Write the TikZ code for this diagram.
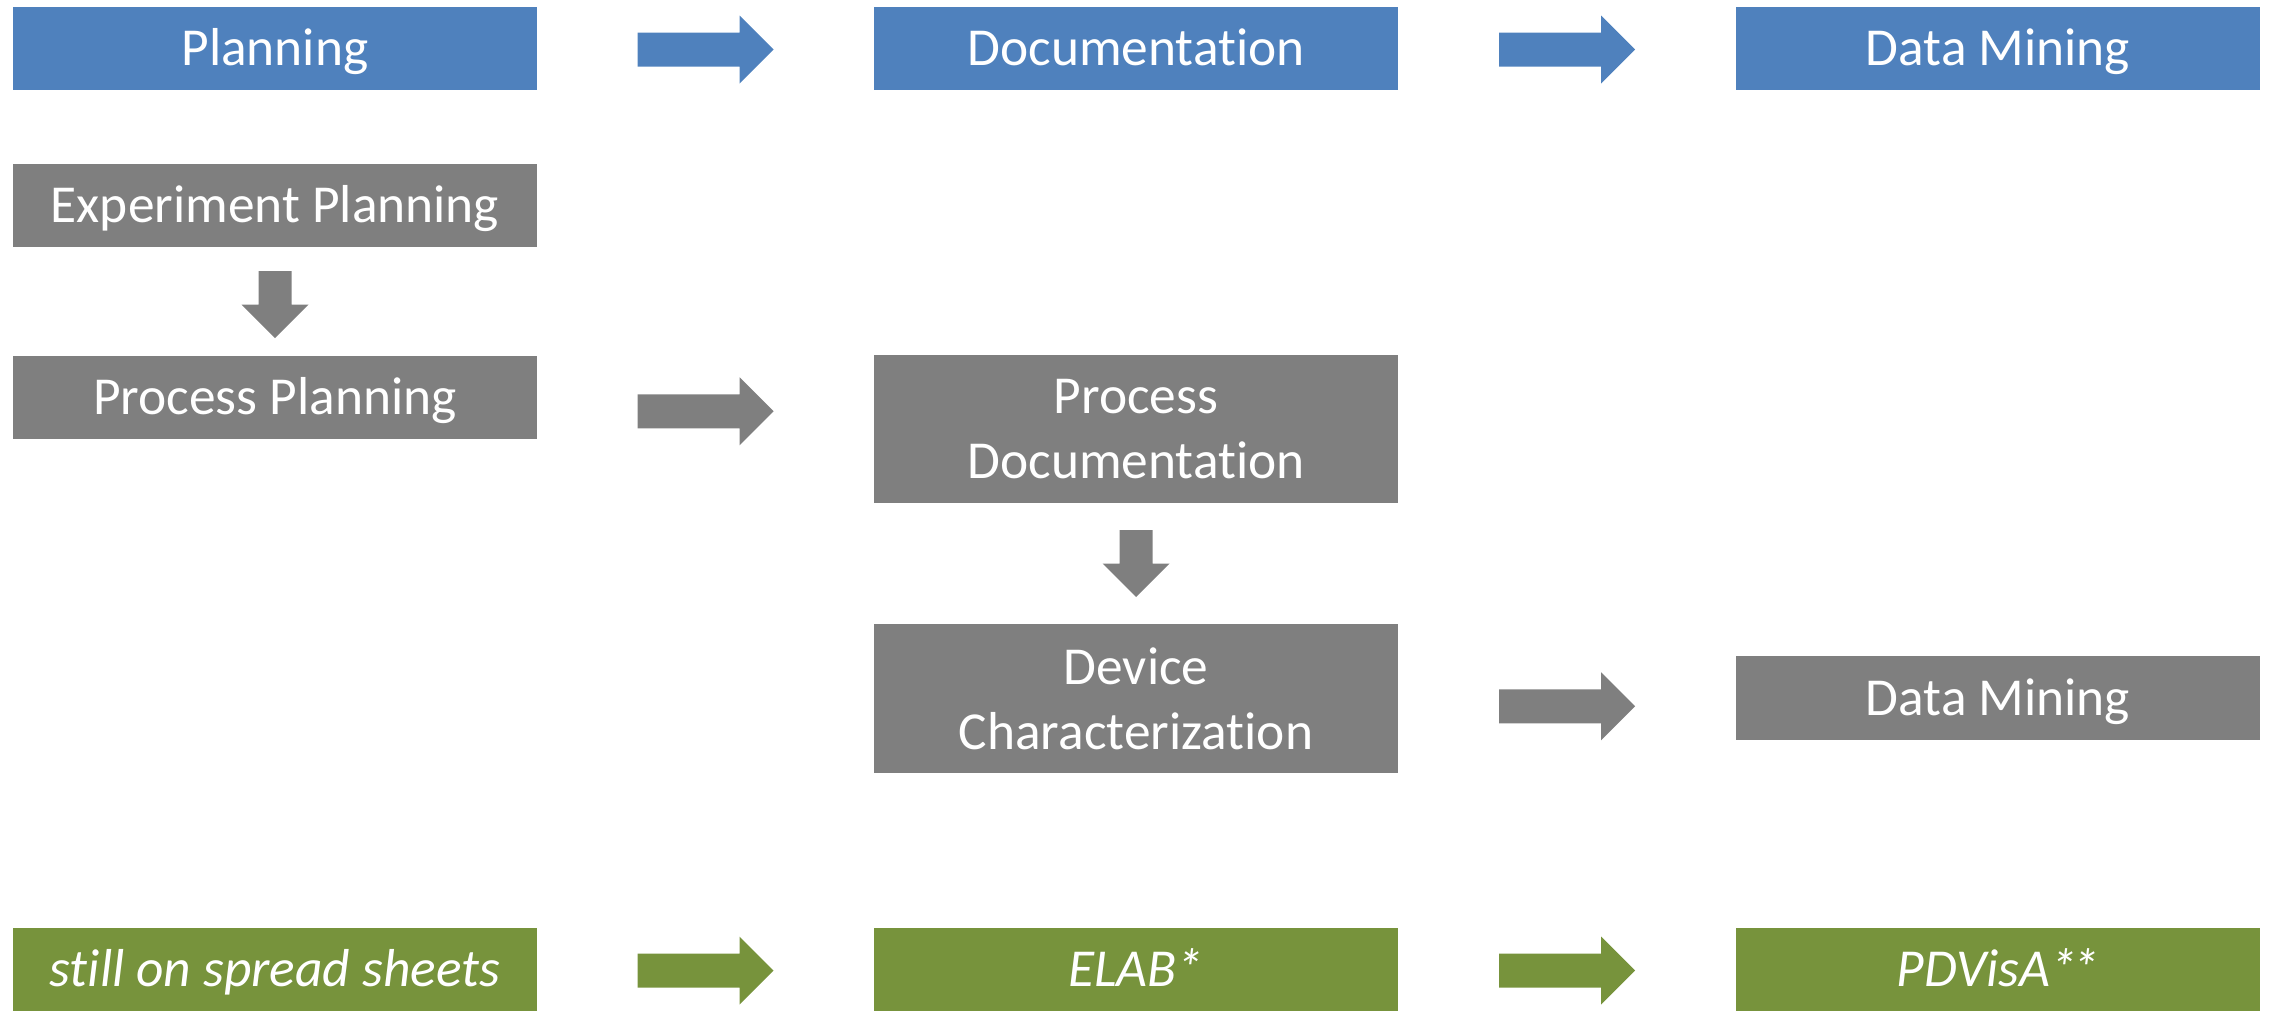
\documentclass[tikz,border=0pt]{standalone}
\usepackage{fontspec}
\setmainfont{Carlito}[RawFeature={-liga}]
\usetikzlibrary{calc}
\definecolor{blueA}{HTML}{4F81BD}
\definecolor{grayA}{HTML}{7F7F7F}
\definecolor{greenA}{HTML}{77933C}
\tikzset{
  box/.style={rectangle, minimum width=524pt, minimum height=83pt, inner sep=0pt,
    text=white, font=\fontsize{53.4}{65}\selectfont, align=center},
  oneline/.style={text height=43pt, text depth=9pt},
  harr/.pic={\path[pic actions] (-68,-17) -- (34,-17) -- (34,-34) -- (68,0) -- (34,34) -- (34,17) -- (-68,17) -- cycle;},
  darr/.pic={\path[pic actions] (-16.5,-33.5) -- (16.5,-33.5) -- (16.5,0) -- (33.5,0) -- (0,33.5) -- (-33.5,0) -- (-16.5,0) -- cycle;}
}
\begin{document}
\begin{tikzpicture}[x=1pt,y=-1pt]
\useasboundingbox (0,0) rectangle (2270,1010);
% row 1 (blue)
\node[box,oneline,fill=blueA] (plan) at (275,48.5) {Planning};
\node[box,oneline,fill=blueA] (doc) at (1136,48.5) {Documentation};
\node[box,oneline,fill=blueA] (dm) at (1998,48.5) {Data Mining};
% gray
\node[box,oneline,fill=grayA] (exp) at (275,205.5) {Experiment Planning};
\node[box,oneline,fill=grayA] (pp) at (275,397.5) {Process Planning};
\node[box,fill=grayA,minimum height=148pt] (pdoc) at (1136,429) {Process\\Documentation};
\node[box,fill=grayA,minimum height=149pt] (dev) at (1136,698.5) {Device\\Characterization};
\node[box,oneline,fill=grayA,minimum height=84pt] (dm2) at (1998,698) {Data Mining};
% green
\node[box,oneline,fill=greenA,font=\fontsize{53.4}{65}\selectfont\itshape] (s1) at (275,969.5) {still on spread sheets};
\node[box,oneline,fill=greenA,font=\fontsize{53.4}{65}\selectfont\itshape] (elab) at (1136,969.5) {ELAB*};
\node[box,oneline,fill=greenA,font=\fontsize{53.4}{65}\selectfont\itshape] (pdv) at (1998,969.5) {PDVisA*\kern-0.08em*};
% arrows
\pic[fill=blueA] at ($(plan.east)!0.5!(doc.west)+(0,1)$) {harr};
\pic[fill=blueA] at ($(doc.east)!0.5!(dm.west)+(0,1)$) {harr};
\pic[fill=grayA] at ($(exp.south)!0.5!(pp.north)+(0,3)$) {darr};
\pic[fill=grayA] at ($(pp.east)!0.5!(pdoc.west)+(0,-2)$) {harr};
\pic[fill=grayA] at ($(pdoc.south)!0.5!(dev.north)$) {darr};
\pic[fill=grayA] at ($(dev.east)!0.5!(dm2.west)+(0,8)$) {harr};
\pic[fill=greenA] at ($(s1.east)!0.5!(elab.west)+(0,1)$) {harr};
\pic[fill=greenA] at ($(elab.east)!0.5!(pdv.west)+(0,1)$) {harr};
\end{tikzpicture}
\end{document}
